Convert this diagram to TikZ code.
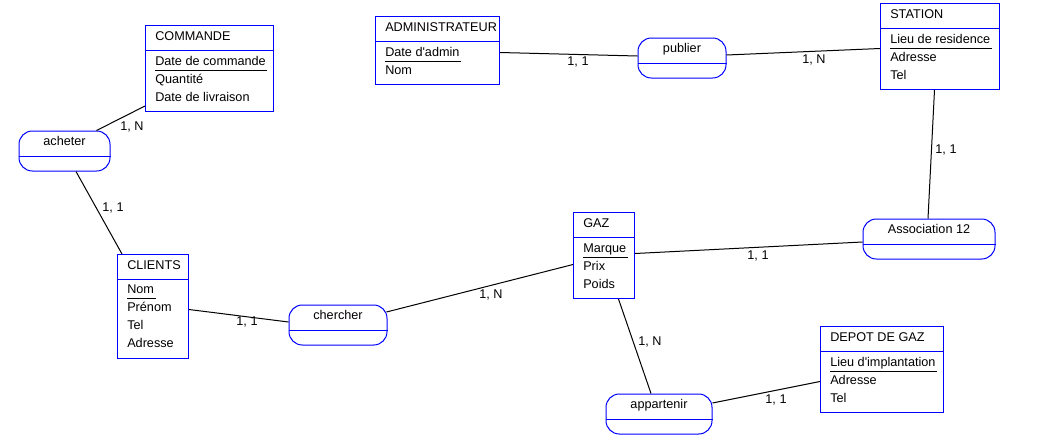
\documentclass[tikz,border=0pt]{standalone}
\usepackage{fontspec}
\setmainfont{Liberation Sans}[Ligatures=TeXOff]
\usetikzlibrary{calc}
\definecolor{mcd}{RGB}{0,0,255}

\begin{document}
\begin{tikzpicture}[x=0.75pt,y=-0.75pt,
  font=\fontsize{9.5}{11}\selectfont,
  entite/.style={draw=mcd, line width=0.75pt, anchor=north west, inner sep=0pt, minimum height=64.5pt},
  assoc/.style={draw=mcd, line width=0.75pt, rounded corners=10pt, inner sep=0pt, minimum height=30pt},
  sep/.style={mcd, line width=0.75pt},
  txt/.style={anchor=base west, inner sep=0pt},
  nom/.style={anchor=base, inner sep=0pt},
  souligne/.style={line width=0.75pt},
  lien/.style={line width=0.75pt},
  card/.style={inner sep=0pt}]

\useasboundingbox (0,0) rectangle (1064,447);

% entites
\begin{scope}[shift={(145,25)}]
  \node[entite, minimum width=96pt] (commande) at (0,0) {};
  \draw[sep] (0,25) -- (128,25);
  \node[txt] (commande-titre) at (10,15) {COMMANDE};
  \foreach \a [count=\i from 0] in {Date de commande, Quantité, Date de livraison}
    \node[txt] (commande-\i) at (10,40+18*\i) {\a};
  \draw[souligne] ([yshift=-4pt]commande-0.base west) -- ([yshift=-4pt,xshift=1pt]commande-0.base east);
\end{scope}

\begin{scope}[shift={(375,16)}]
  \node[entite, minimum width=93pt, minimum height=51pt] (admin) at (0,0) {};
  \draw[sep] (0,25) -- (124,25);
  \node[txt] (admin-titre) at (10,15) {ADMINISTRATEUR};
  \foreach \a [count=\i from 0] in {Date d'admin, Nom}
    \node[txt] (admin-\i) at (10,40+18*\i) {\a};
  \draw[souligne] ([yshift=-4pt]admin-0.base west) -- ([yshift=-4pt,xshift=1pt]admin-0.base east);
\end{scope}

\begin{scope}[shift={(880,3)}]
  \node[entite, minimum width=89.25pt] (station) at (0,0) {};
  \draw[sep] (0,25) -- (119,25);
  \node[txt] (station-titre) at (10,15) {STATION};
  \foreach \a [count=\i from 0] in {Lieu de residence, Adresse, Tel}
    \node[txt] (station-\i) at (10,40+18*\i) {\a};
  \draw[souligne] ([yshift=-4pt]station-0.base west) -- ([yshift=-4pt,xshift=1pt]station-0.base east);
\end{scope}

\begin{scope}[shift={(117,254)}]
  \node[entite, minimum width=53.25pt, minimum height=78pt] (clients) at (0,0) {};
  \draw[sep] (0,25) -- (71,25);
  \node[txt] (clients-titre) at (10,15) {CLIENTS};
  \foreach \a [count=\i from 0] in {Nom, Prénom, Tel, Adresse}
    \node[txt] (clients-\i) at (10,39.5+18*\i) {\a};
  \draw[souligne] ([yshift=-4pt]clients-0.base west) -- ([yshift=-4pt,xshift=1pt]clients-0.base east);
\end{scope}

\begin{scope}[shift={(573,212)}]
  \node[entite, minimum width=45.75pt] (gaz) at (0,0) {};
  \draw[sep] (0,25) -- (61,25);
  \node[txt] (gaz-titre) at (10,15) {GAZ};
  \foreach \a [count=\i from 0] in {Marque, Prix, Poids}
    \node[txt] (gaz-\i) at (10,40+18*\i) {\a};
  \draw[souligne] ([yshift=-4pt]gaz-0.base west) -- ([yshift=-4pt,xshift=1pt]gaz-0.base east);
\end{scope}

\begin{scope}[shift={(820,326)}]
  \node[entite, minimum width=92.25pt] (depot) at (0,0) {};
  \draw[sep] (0,25) -- (123,25);
  \node[txt] (depot-titre) at (10,15) {DEPOT DE GAZ};
  \foreach \a [count=\i from 0] in {Lieu d'implantation, Adresse, Tel}
    \node[txt] (depot-\i) at (10,40+18*\i) {\a};
  \draw[souligne] ([yshift=-4pt]depot-0.base west) -- ([yshift=-4pt,xshift=1pt]depot-0.base east);
\end{scope}

% associations
\node[assoc, minimum width=68.25pt] (acheter) at (64.5,151) {};
\node[assoc, minimum width=66pt] (publier) at (682,58) {};
\node[assoc, minimum width=99pt] (asso12) at (929,239) {};
\node[assoc, minimum width=73.5pt] (chercher) at (338,325) {};
\node[assoc, minimum width=79.5pt] (appartenir) at (659,414) {};
\foreach \n/\t in {acheter/acheter, publier/publier, asso12/Association 12, chercher/chercher, appartenir/appartenir} {
  \draw[sep] ($(\n.west)+(0,5)$) -- ($(\n.east)+(0,5)$);
  \node[nom] (\n-nom) at ($(\n.north)+(0,15)$) {\t};
}

% liens et cardinalites
\draw[lien] ($(commande.south west)+(0,-6)$) -- ($(acheter.north)+(32,0)$);
\node[card] (card-1) at (132,127) {1, N};
\draw[lien] ($(acheter.south)+(11.5,0)$) -- ($(clients.north west)+(5,0)$);
\node[card] (card-2) at (113,208) {1, 1};
\draw[lien] ($(admin.east)+(0,2)$) -- ($(publier.west)+(0,-2)$);
\node[card] (card-3) at (578,62) {1, 1};
\draw[lien] ($(publier.east)+(0,-3)$) -- ($(station.west)+(0,2)$);
\node[card] (card-4) at (814,60) {1, N};
\draw[lien] ($(station.south)+(-5.5,0)$) -- ($(asso12.north)+(-1,0)$);
\node[card] (card-5) at (946,150) {1, 1};
\draw[lien] ($(gaz.east)+(0,-2)$) -- ($(asso12.west)+(0,3)$);
\node[card] (card-6) at (758,256) {1, 1};
\draw[lien] ($(clients.east)+(0,3)$) -- ($(chercher.west)+(0,-3)$);
\node[card] (card-7) at (247,322) {1, 1};
\draw[lien] ($(chercher.east)+(-1,-13)$) -- ($(gaz.west)+(0,9)$);
\node[card] (card-8) at (491,295) {1, N};
\draw[lien] ($(gaz.south)+(14.5,0)$) -- ($(appartenir.north)+(-8,0)$);
\node[card] (card-9) at (650,342) {1, N};
\draw[lien] ($(appartenir.east)+(0,-11)$) -- ($(depot.west)+(0,12)$);
\node[card] (card-10) at (776,400) {1, 1};

\end{tikzpicture}
\end{document}
